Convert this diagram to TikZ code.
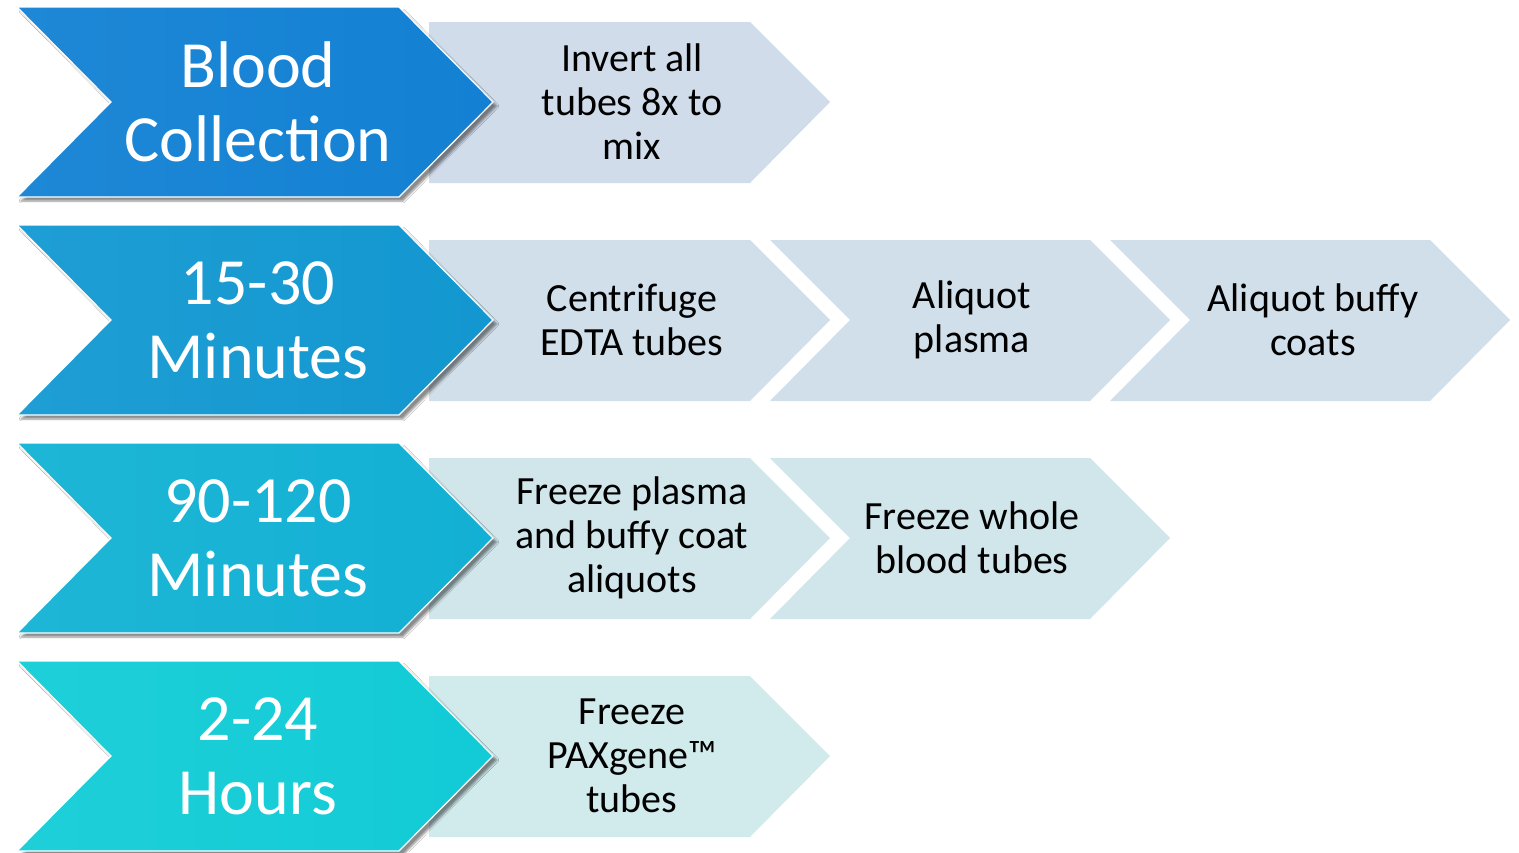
\documentclass[tikz,border=0pt]{standalone}
\usepackage{fontspec}
\setmainfont{Carlito}
\usetikzlibrary{shadows.blur}
\definecolor{bA}{HTML}{1380D3}
\definecolor{bAl}{HTML}{1E88D6}
\definecolor{bB}{HTML}{1397D0}
\definecolor{bBl}{HTML}{1E9ED4}
\definecolor{bC}{HTML}{12B0D4}
\definecolor{bCl}{HTML}{1EB6D6}
\definecolor{bD}{HTML}{12CBD6}
\definecolor{bDl}{HTML}{1ECFD8}
\definecolor{lA}{HTML}{D1DCEB}
\definecolor{lB}{HTML}{D0DFEA}
\definecolor{lC}{HTML}{D0E6EB}
\definecolor{lD}{HTML}{D1EAEC}
\begin{document}
\begin{tikzpicture}[x=1pt,y=-1pt,
  bigchev/.style={draw=white, line width=1.2pt, line join=miter,
    blur shadow={shadow xshift=4pt, shadow yshift=-4pt, shadow blur steps=6, shadow opacity=45}},
  lightchev/.style={draw=none},
  bigtext/.style={text=white, font=\fontsize{66}{74}\selectfont, align=center},
  smalltext/.style={text=black, font=\fontsize{40}{44}\selectfont, align=center}]
\useasboundingbox (0,0) rectangle (1519,852);
\fill[white] (0,0) rectangle (1519,852);

% Row 1
\path[lightchev, fill=lA] (429,22) -- (750,22) -- (830,102) -- (750,183) -- (429,183) -- cycle;
\path[bigchev, left color=bAl, right color=bA] (17,7) -- (399,7) -- (493,102) -- (399,197) -- (17,197) -- (111,102) -- cycle;
\node[bigtext] (t1) at (258,102) {Blood\\Collection};
\node[smalltext] (s11) at (632,102) {Invert all\\tubes 8x to\\mix};

% Row 2
\begin{scope}[shift={(0,218)}]
\path[lightchev, fill=lB] (429,22) -- (750,22) -- (830,102) -- (750,183) -- (429,183) -- cycle;
\path[lightchev, fill=lB] (770,22) -- (1090,22) -- (1170,102) -- (1090,183) -- (770,183) -- (850,102) -- cycle;
\path[lightchev, fill=lB] (1110,22) -- (1430,22) -- (1510,102) -- (1430,183) -- (1110,183) -- (1190,102) -- cycle;
\path[bigchev, left color=bBl, right color=bB] (17,7) -- (399,7) -- (493,102) -- (399,197) -- (17,197) -- (111,102) -- cycle;
\node[bigtext] (t2) at (258,102) {15-30\\Minutes};
\node[smalltext] (s21) at (632,102) {Centrifuge\\EDTA tubes};
\node[smalltext] (s22) at (972,102) {Aliquot\\plasma};
\node[smalltext] (s23) at (1313,102) {Aliquot buffy\\coats};
\end{scope}

% Row 3
\begin{scope}[shift={(0,436)}]
\path[lightchev, fill=lC] (429,22) -- (750,22) -- (830,102) -- (750,183) -- (429,183) -- cycle;
\path[lightchev, fill=lC] (770,22) -- (1090,22) -- (1170,102) -- (1090,183) -- (770,183) -- (850,102) -- cycle;
\path[bigchev, left color=bCl, right color=bC] (17,7) -- (399,7) -- (493,102) -- (399,197) -- (17,197) -- (111,102) -- cycle;
\node[bigtext] (t3) at (258,102) {90-120\\Minutes};
\node[smalltext] (s31) at (632,102) {Freeze plasma\\and buffy coat\\aliquots};
\node[smalltext] (s32) at (972,102) {Freeze whole\\blood tubes};
\end{scope}

% Row 4
\begin{scope}[shift={(0,654)}]
\path[lightchev, fill=lD] (429,22) -- (750,22) -- (830,102) -- (750,183) -- (429,183) -- cycle;
\path[bigchev, left color=bDl, right color=bD] (17,7) -- (399,7) -- (493,102) -- (399,197) -- (17,197) -- (111,102) -- cycle;
\node[bigtext] (t4) at (258,102) {2-24\\Hours};
\node[smalltext] (s41) at (632,102) {Freeze\\PAXgene™\\tubes};
\end{scope}
\end{tikzpicture}
\end{document}
